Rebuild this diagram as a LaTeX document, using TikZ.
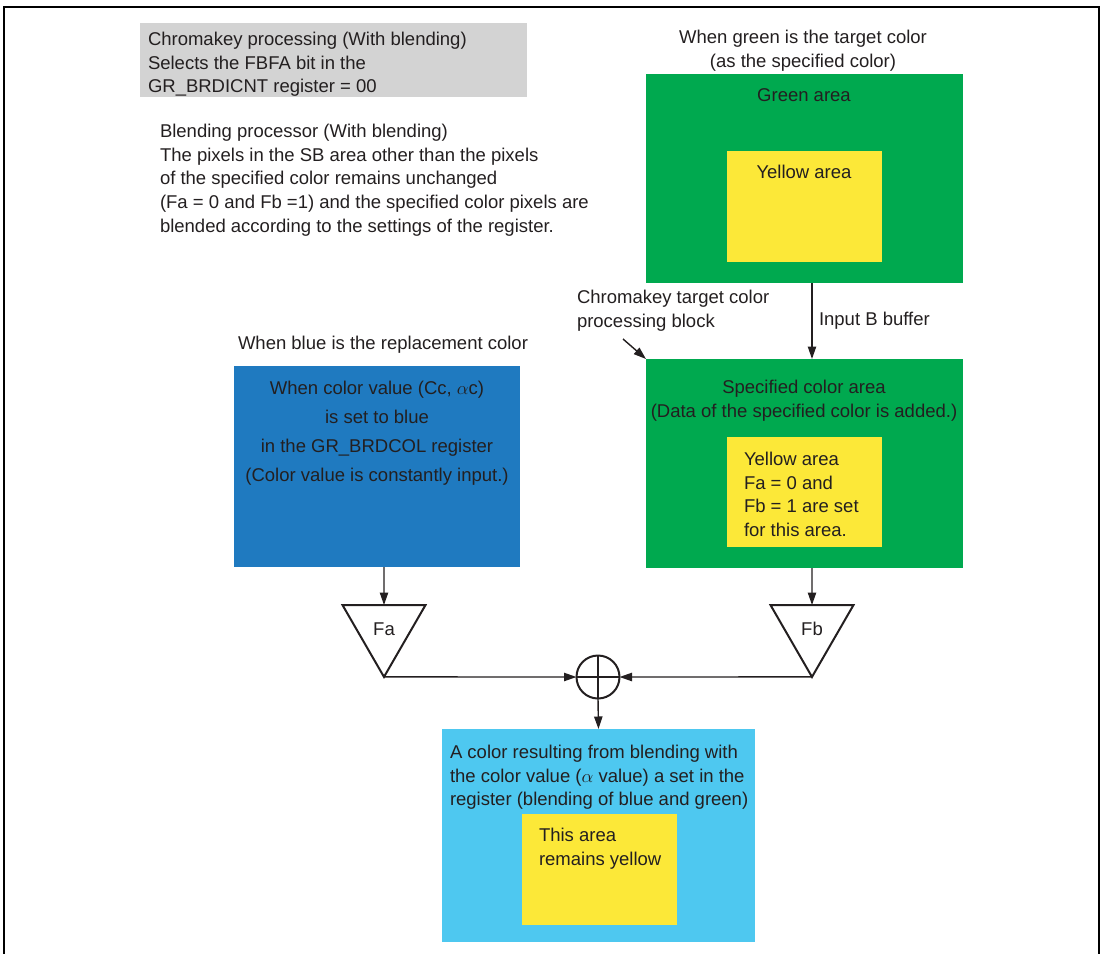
\documentclass[tikz,border=0pt]{standalone}
\usepackage{fontspec}
\setmainfont{Liberation Sans}
\usetikzlibrary{arrows.meta,fit,shapes.geometric}
\definecolor{areagreen}{RGB}{0,169,79}
\definecolor{areayellow}{RGB}{252,232,56}
\definecolor{areablue}{RGB}{31,122,192}
\definecolor{areacyan}{RGB}{78,200,240}
\definecolor{notegray}{RGB}{211,211,211}
\definecolor{ink}{RGB}{35,31,32}

\begin{document}
\begin{tikzpicture}[x=0.6pt,y=-0.6pt,every node/.style={inner sep=0pt, outer sep=0pt, text=ink, font=\fontsize{11.1}{14.2}\selectfont},
  area/.style={inner sep=0pt, fill=#1},
  note/.style={align=left, anchor=north west},
  caption/.style={align=center, anchor=north},
  gain/.style={draw=ink, line width=1.2pt, regular polygon, regular polygon sides=3, shape border rotate=180, minimum size=57.5pt},
  flow/.style={draw=ink, line width=0.85pt, -{Triangle[length=7.5pt,width=5pt]}}]

\useasboundingbox (0,0) rectangle (1102,954);
\draw[line width=1.2pt] (4,954) -- (4,7) -- (1099,7) -- (1099,954);

% notes at the top left
\node[area=notegray, fit={(140,23) (527,97)}] (regnote) {};
\node[note] (regtext) at (148,32) {Chromakey processing (With blending)\\Selects the FBFA bit in the\\GR\_BRDICNT register = 00};
\node[note] (blendnote) at (160,124) {Blending processor (With blending)\\The pixels in the SB area other than the pixels\\of the specified color remains unchanged\\(Fa = 0 and Fb =1) and the specified color pixels are\\blended according to the settings of the register.};

% target color (green)
\node[caption] (greencap) at (803,30) {When green is the target color\\(as the specified color)};
\node[area=areagreen, fit={(646,74) (963,283)}] (green) {};
\node (greentext) at (804,95) {Green area};
\node[area=areayellow, fit={(727,151) (882,262)}] (greenyel) {};
\node (greenyeltext) at (804,172) {Yellow area};

% chromakey block
\node[note] (cklabel) at (577,290) {Chromakey target color\\processing block};
\coordinate (ckarrow) at (623,339);
\node[area=areagreen, fit={(646,359) (963,568)}] (spec) {};
\node[caption] (spectext) at (804,380) {Specified color area\\(Data of the specified color is added.)};
\node[area=areayellow, fit={(727,437) (882,547)}] (specyel) {};
\node[note] (specyeltext) at (744,452) {Yellow area\\Fa = 0 and\\Fb = 1 are set\\for this area.};

% replacement color (blue)
\node (bluecap) at (383,345) {When blue is the replacement color};
\node[area=areablue, fit={(234,366) (520,567)}] (blue) {};
\node[caption, font=\fontsize{11.1}{17.4}\selectfont] (bluetext) at (377,381) {When color value (Cc, $\alpha$c)\\is set to blue\\in the GR\_BRDCOL register\\(Color value is constantly input.)};

% gains and sum
\node[gain] (fa) at (384,629) {Fa};
\node[gain] (fb) at (812,629) {Fb};
\node[circle, draw=ink, line width=1.2pt, minimum size=25.8pt] (sum) at (598,677) {};
\draw[ink, line width=1.2pt] (sum.north) -- (sum.south) (sum.west) -- (sum.east);

% blended result
\node[area=areacyan, fit={(442,729) (755,942)}] (result) {};
\node[note] (resulttext) at (450,745) {A color resulting from blending with\\the color value ($\alpha$ value) a set in the\\register (blending of blue and green)};
\node[area=areayellow, fit={(522,814) (677,925)}] (resultyel) {};
\node[note] (resultyeltext) at (539,828) {This area\\remains yellow};

% connectors
\draw[flow] (green.south -| fb) -- node[right=4.2pt] (inputb) {Input B buffer} (spec.north -| fb);
\draw[flow] (ckarrow) -- (spec.north west);
\draw[flow] (blue.south -| fa) -- (fa.north);
\draw[flow] (spec.south -| fb) -- (fb.north);
\draw[flow] (fa.corner 1) -- (sum.west);
\draw[flow] (fb.corner 1) -- (sum.east);
\draw[flow] (sum.south) -- (result.north);
\end{tikzpicture}
\end{document}
